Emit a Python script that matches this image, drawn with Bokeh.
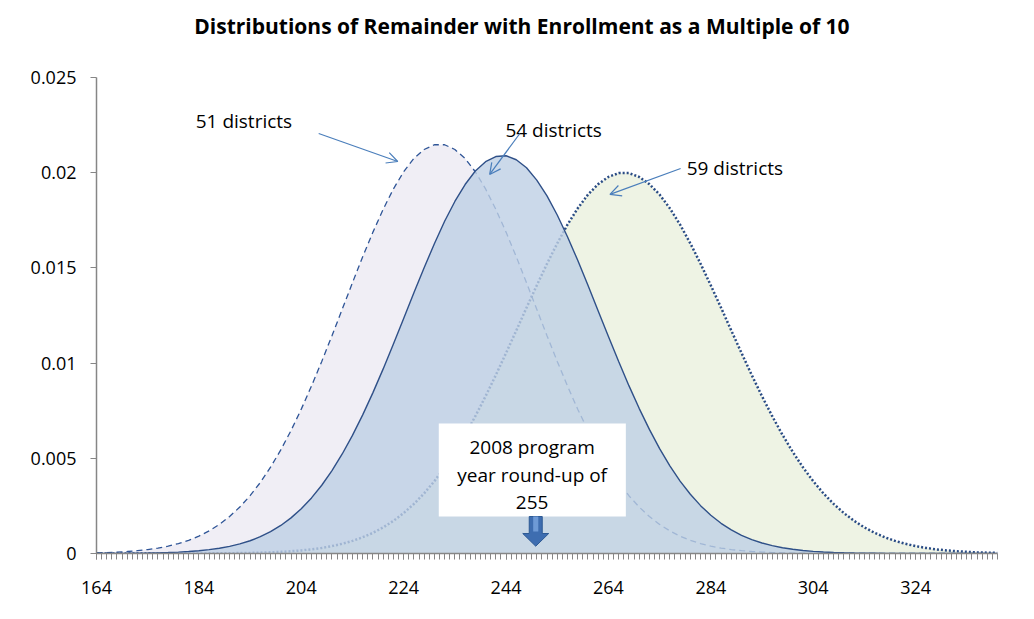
from bokeh.plotting import figure
from bokeh.models import Range1d, FixedTicker, Arrow, OpenHead
from bokeh.core.properties import value
from bokeh.embed import file_html
from bokeh.resources import INLINE

# ---- data ----
remainder = list(range(164, 341, 2))
d51 = [0.000035, 0.000051, 0.000074, 0.000105, 0.000148, 0.000206, 0.000284, 0.000387, 0.000522, 0.000694,
       0.000913, 0.001188, 0.001528, 0.001943, 0.002442, 0.003036, 0.003729, 0.004532, 0.005442, 0.006459,
       0.007583, 0.008798, 0.01009, 0.01144, 0.01283, 0.01422, 0.01559, 0.01688, 0.01808, 0.01915,
       0.02005, 0.02075, 0.02122, 0.02147, 0.02147, 0.02122, 0.02075, 0.02005, 0.01915, 0.01808,
       0.01688, 0.01559, 0.01422, 0.01283, 0.01144, 0.01009, 0.008796, 0.007581, 0.006461, 0.005442,
       0.004532, 0.00373, 0.003036, 0.002442, 0.001943, 0.001528, 0.001188, 0.000913, 0.000694, 0.000522,
       0.000387, 0.000284, 0.000206, 0.000148, 0.000105, 0.000074, 0.000051, 0.000035, 0.000024, 0.000016,
       0.00001, 0.000007, 0.000004, 0.000003, 0.000002, 0.000001, 0.000001, 0.0, 0.0, 0.0,
       0.0, 0.0, 0.0, 0.0, 0.0, 0.0, 0.0, 0.0, 0.0]
d54 = [0.000003, 0.0000045, 0.000007, 0.00001, 0.000016, 0.000023, 0.000034, 0.00005, 0.000072, 0.000103,
       0.000144, 0.000201, 0.000276, 0.000376, 0.000505, 0.000671, 0.000882, 0.001147, 0.001473, 0.001871,
       0.00235, 0.00292, 0.003585, 0.004354, 0.005227, 0.006203, 0.007281, 0.00845, 0.009696, 0.011,
       0.01234, 0.01369, 0.01501, 0.01627, 0.01745, 0.01849, 0.01938, 0.02009, 0.02058, 0.02085,
       0.02089, 0.02068, 0.02026, 0.01961, 0.01878, 0.01778, 0.01664, 0.0154, 0.01409, 0.01274,
       0.0114, 0.01008, 0.008816, 0.007625, 0.006519, 0.00551, 0.004604, 0.003805, 0.00311, 0.002513,
       0.002006, 0.001585, 0.001238, 0.000955, 0.00073, 0.000551, 0.000411, 0.000303, 0.000221, 0.00016,
       0.000114, 0.00008, 0.000056, 0.000039, 0.000026, 0.000018, 0.000012, 0.000008, 0.000005, 0.000003,
       0.000002, 0.000001, 0.000001, 0.0000005, 0.0, 0.0, 0.0, 0.0, 0.0]
d59 = [0.0, 0.0, 0.0, 0.0, 0.0, 0.000001, 0.000001, 0.000001, 0.000002, 0.000003,
       0.000005, 0.000007, 0.00001, 0.000015, 0.000022, 0.000031, 0.000044, 0.000062, 0.000086, 0.000119,
       0.000162, 0.000219, 0.000293, 0.000388, 0.00051, 0.000662, 0.000852, 0.001086, 0.001371, 0.001714,
       0.002122, 0.002602, 0.003158, 0.003798, 0.004525, 0.005337, 0.006233, 0.00721, 0.008258, 0.00937,
       0.01053, 0.01171, 0.01291, 0.01408, 0.01522, 0.01629, 0.01727, 0.01813, 0.01885, 0.0194,
       0.01978, 0.01998, 0.01998, 0.01978, 0.0194, 0.01885, 0.01813, 0.01727, 0.01629, 0.01522,
       0.01408, 0.01291, 0.01171, 0.01053, 0.00937, 0.008258, 0.00721, 0.006233, 0.005337, 0.004525,
       0.003798, 0.003158, 0.002602, 0.002122, 0.001714, 0.001371, 0.001086, 0.000852, 0.000662, 0.00051,
       0.000388, 0.000293, 0.000219, 0.000162, 0.000119, 0.000086, 0.000062, 0.000044, 0.000031]
x_tick_values = [164, 184, 204, 224, 244, 264, 284, 304, 324]
y_tick_values = [0, 0.005, 0.01, 0.015, 0.02, 0.025]
y_tick_labels = ["0", "0.005", "0.01", "0.015", "0.02", "0.025"]
series_labels = ["51 districts", "54 districts", "59 districts"]
title_text = "Distributions of Remainder with Enrollment as a Multiple of 10"
box_lines = ["2008 program", "year round-up of", "255"]
roundup_x = 249.8

FONT = "Open Sans"

p = figure(width=1026, height=611, output_backend="svg", toolbar_location=None,
           x_range=Range1d(164, 340), y_range=Range1d(0, 0.02852),
           min_border_left=96, min_border_right=29, min_border_top=10, min_border_bottom=58)
p.background_fill_color = "white"
p.border_fill_color = "white"
p.outline_line_color = None
p.xgrid.visible = False
p.ygrid.visible = False

# title (drawn in the space above the value axis)
p.text(x=[247.1], y=[0.02773], text=[title_text], text_align="center", text_baseline="middle",
       text_font=value(FONT), text_font_style="bold", text_font_size="21px", text_color="black")

# fills and curves
p.varea(x=remainder, y1=0, y2=d51, fill_color="#f0eef5")
p.varea(x=remainder, y1=0, y2=d59, fill_color="#eef3e4")
p.line(remainder, d51, line_color="#2f5597", line_width=1.3, line_dash="6 4")
p.line(remainder, d59, line_color="#2a4c85", line_width=2.5, line_dash="2 2")
p.varea(x=remainder, y1=0, y2=d54, fill_color="#becfe5", fill_alpha=0.8)
p.line(remainder, d54, line_color="#2f5088", line_width=1.4)

# axes
xa = p.xaxis[0]
xa.ticker = FixedTicker(ticks=x_tick_values, minor_ticks=list(range(164, 341)))
ya = p.yaxis[0]
ya.ticker = FixedTicker(ticks=y_tick_values)
ya.bounds = (0, 0.025)
ya.major_label_overrides = {v: s for v, s in zip(y_tick_values, y_tick_labels)}
for ax in (xa, ya):
    ax.axis_line_color = "#868686"
    ax.axis_line_width = 1.5
    ax.major_tick_line_color = "#868686"
    ax.minor_tick_line_color = "#868686"
    ax.major_tick_in = 0
    ax.major_tick_out = 6
    ax.minor_tick_in = 0
    ax.major_label_text_font = FONT
    ax.major_label_text_font_size = "18px"
    ax.major_label_text_color = "black"
xa.minor_tick_out = 6
ya.minor_tick_out = 0
xa.major_label_standoff = 21
ya.major_label_standoff = 14

# series labels and arrows
lab_x = [192.8, 253.3, 288.7]
lab_y = [0.02269, 0.02222, 0.02027]
p.text(x=lab_x, y=lab_y, text=series_labels, text_align="center", text_baseline="middle",
       text_font=value(FONT), text_font_size="19px", text_color="black")
arrow_color = "#4a7ebb"
for (xs, ys, xe, ye) in [(207.4, 0.02206, 222.85, 0.02059),
                         (246.7, 0.02206, 240.8, 0.01991),
                         (278.1, 0.02022, 264.3, 0.01886)]:
    p.add_layout(Arrow(x_start=xs, y_start=ys, x_end=xe, y_end=ye,
                       line_color=arrow_color, line_width=1.2,
                       end=OpenHead(size=11, line_color=arrow_color, line_width=1.2)))

# text box
p.quad(left=230.86, right=267.4, bottom=0.001943, top=0.006828,
       fill_color="white", line_color=None)
p.text(x=[249.1] * 3, y=[0.005583, 0.004097, 0.002694], text=box_lines,
       text_align="center", text_baseline="middle",
       text_font=value(FONT), text_font_size="19px", text_color="black")

# block arrow pointing to the round-up value
sw, hw = 1.27, 2.54
ax_pts = [roundup_x - sw, roundup_x + sw, roundup_x + sw, roundup_x + hw, roundup_x,
          roundup_x - hw, roundup_x - sw]
ay_pts = [0.001943, 0.001943, 0.00105, 0.00105, 0.000383, 0.00105, 0.00105]
p.patch(ax_pts, ay_pts, fill_color="#3e6db0", line_color="#2e5a94", line_width=1)
p.quad(left=roundup_x - 0.5, right=roundup_x + 0.5, bottom=0.00115, top=0.00194,
       fill_color="#6e9ad6", line_color=None)

open("out.html", "w").write(file_html(p, INLINE))
